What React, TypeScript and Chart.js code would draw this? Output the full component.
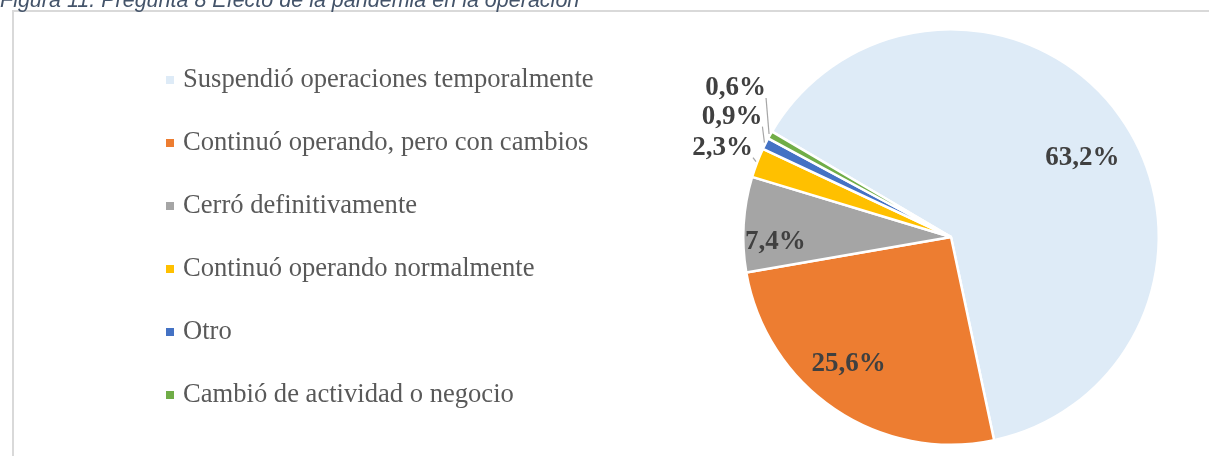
import React, { useEffect, useRef } from "react";
import { Chart, registerables } from "chart.js";
Chart.register(...registerables);

const TITLE = "Figura 11. Pregunta 8 Efecto de la pandemia en la operación";
const categories = [
  "Suspendió operaciones temporalmente",
  "Continuó operando, pero con cambios",
  "Cerró definitivamente",
  "Continuó operando normalmente",
  "Otro",
  "Cambió de actividad o negocio",
];
const values = [63.2, 25.6, 7.4, 2.3, 0.9, 0.6];
const valueLabels = ["63,2%", "25,6%", "7,4%", "2,3%", "0,9%", "0,6%"];
const colors = ["#DEEBF7", "#ED7D31", "#A5A5A5", "#FFC000", "#4472C4", "#70AD47"];

// label placement styles (inside: radius factor + angle nudge in degrees; outside: leader offsets)
const labelPlacement = [
  { mode: "in", r: 0.74, da: 4.4 },
  { mode: "in", r: 0.78, da: 5.1 },
  { mode: "in", r: 0.845, da: -4.8 },
  { mode: "out", dx: -4, dy: -5 },
  { mode: "out", dx: -3, dy: -17 },
  { mode: "out", dx: -4, dy: -37 },
];

const W = 1209;
const H = 456;

const framePlugin = {
  id: "frame",
  beforeDraw(chart: any) {
    const ctx = chart.ctx;
    ctx.save();
    ctx.fillStyle = "#FFFFFF";
    ctx.fillRect(0, 0, W, H);
    ctx.fillStyle = "#D9D9D9";
    ctx.fillRect(12, 10, W, 2);
    ctx.fillRect(12, 10, 2, H);
    ctx.fillStyle = "#44546A";
    ctx.font = "italic 21.5px 'Liberation Sans'";
    ctx.textAlign = "left";
    ctx.textBaseline = "alphabetic";
    ctx.fillText(TITLE, 0, 7);
    ctx.restore();
  },
};

const legendPlugin = {
  id: "customLegend",
  afterDraw(chart: any) {
    const ctx = chart.ctx;
    ctx.save();
    const labels = chart.data.labels;
    const bg = chart.data.datasets[0].backgroundColor;
    ctx.font = "26.6px 'Liberation Serif'";
    ctx.textBaseline = "middle";
    ctx.textAlign = "left";
    for (let i = 0; i < labels.length; i++) {
      const y = 80 + i * 63;
      ctx.fillStyle = bg[i];
      ctx.fillRect(166, y - 4, 8, 8);
      ctx.fillStyle = "#595959";
      ctx.fillText(labels[i], 183, y);
    }
    ctx.restore();
  },
};

const dataLabelPlugin = {
  id: "valueLabels",
  afterDatasetsDraw(chart: any) {
    const ctx = chart.ctx;
    const meta = chart.getDatasetMeta(0);
    ctx.save();
    ctx.font = "bold 27px 'Liberation Serif'";
    ctx.fillStyle = "#404040";
    meta.data.forEach((arc: any, i: number) => {
      const p = labelPlacement[i];
      const { x, y, startAngle, endAngle, outerRadius } = arc.getProps(
        ["x", "y", "startAngle", "endAngle", "outerRadius"],
        true
      );
      const mid = (startAngle + endAngle) / 2;
      if (p.mode === "in") {
        const a = mid + ((p.da as number) * Math.PI) / 180;
        const r = outerRadius * (p.r as number);
        ctx.textAlign = "center";
        ctx.textBaseline = "middle";
        ctx.fillText(valueLabels[i], x + Math.cos(a) * r, y + Math.sin(a) * r + 1);
      } else {
        const ex = x + Math.cos(mid) * outerRadius;
        const ey = y + Math.sin(mid) * outerRadius;
        const ax = ex + (p.dx as number);
        const ay = ey + (p.dy as number);
        ctx.strokeStyle = "#A6A6A6";
        ctx.lineWidth = 1.2;
        ctx.beginPath();
        ctx.moveTo(ex - 1, ey - 1);
        ctx.lineTo(ax, ay);
        ctx.stroke();
        ctx.textAlign = "right";
        ctx.textBaseline = "middle";
        ctx.fillText(valueLabels[i], ax, ay - 10);
      }
    });
    ctx.restore();
  },
};

export default function App() {
  const ref = useRef<HTMLCanvasElement | null>(null);
  useEffect(() => {
    if (!ref.current) return;
    const chart = new Chart(ref.current, {
      type: "pie",
      data: {
        labels: categories,
        datasets: [
          {
            data: values,
            backgroundColor: colors,
            borderColor: "#FFFFFF",
            borderWidth: 2.5,
          },
        ],
      },
      options: {
        responsive: false,
        animation: false,
        rotation: -59.5,
        layout: { padding: { left: 742, right: 49, top: 28, bottom: 10 } },
        plugins: {
          legend: { display: false },
          tooltip: { enabled: false },
        },
        events: [],
      },
      plugins: [framePlugin, legendPlugin, dataLabelPlugin],
    });
    return () => chart.destroy();
  }, []);
  return (
    <div style={{ position: "absolute", left: 0, top: 0, width: W, height: H }}>
      <canvas ref={ref} width={W} height={H} style={{ display: "block" }} />
    </div>
  );
}
